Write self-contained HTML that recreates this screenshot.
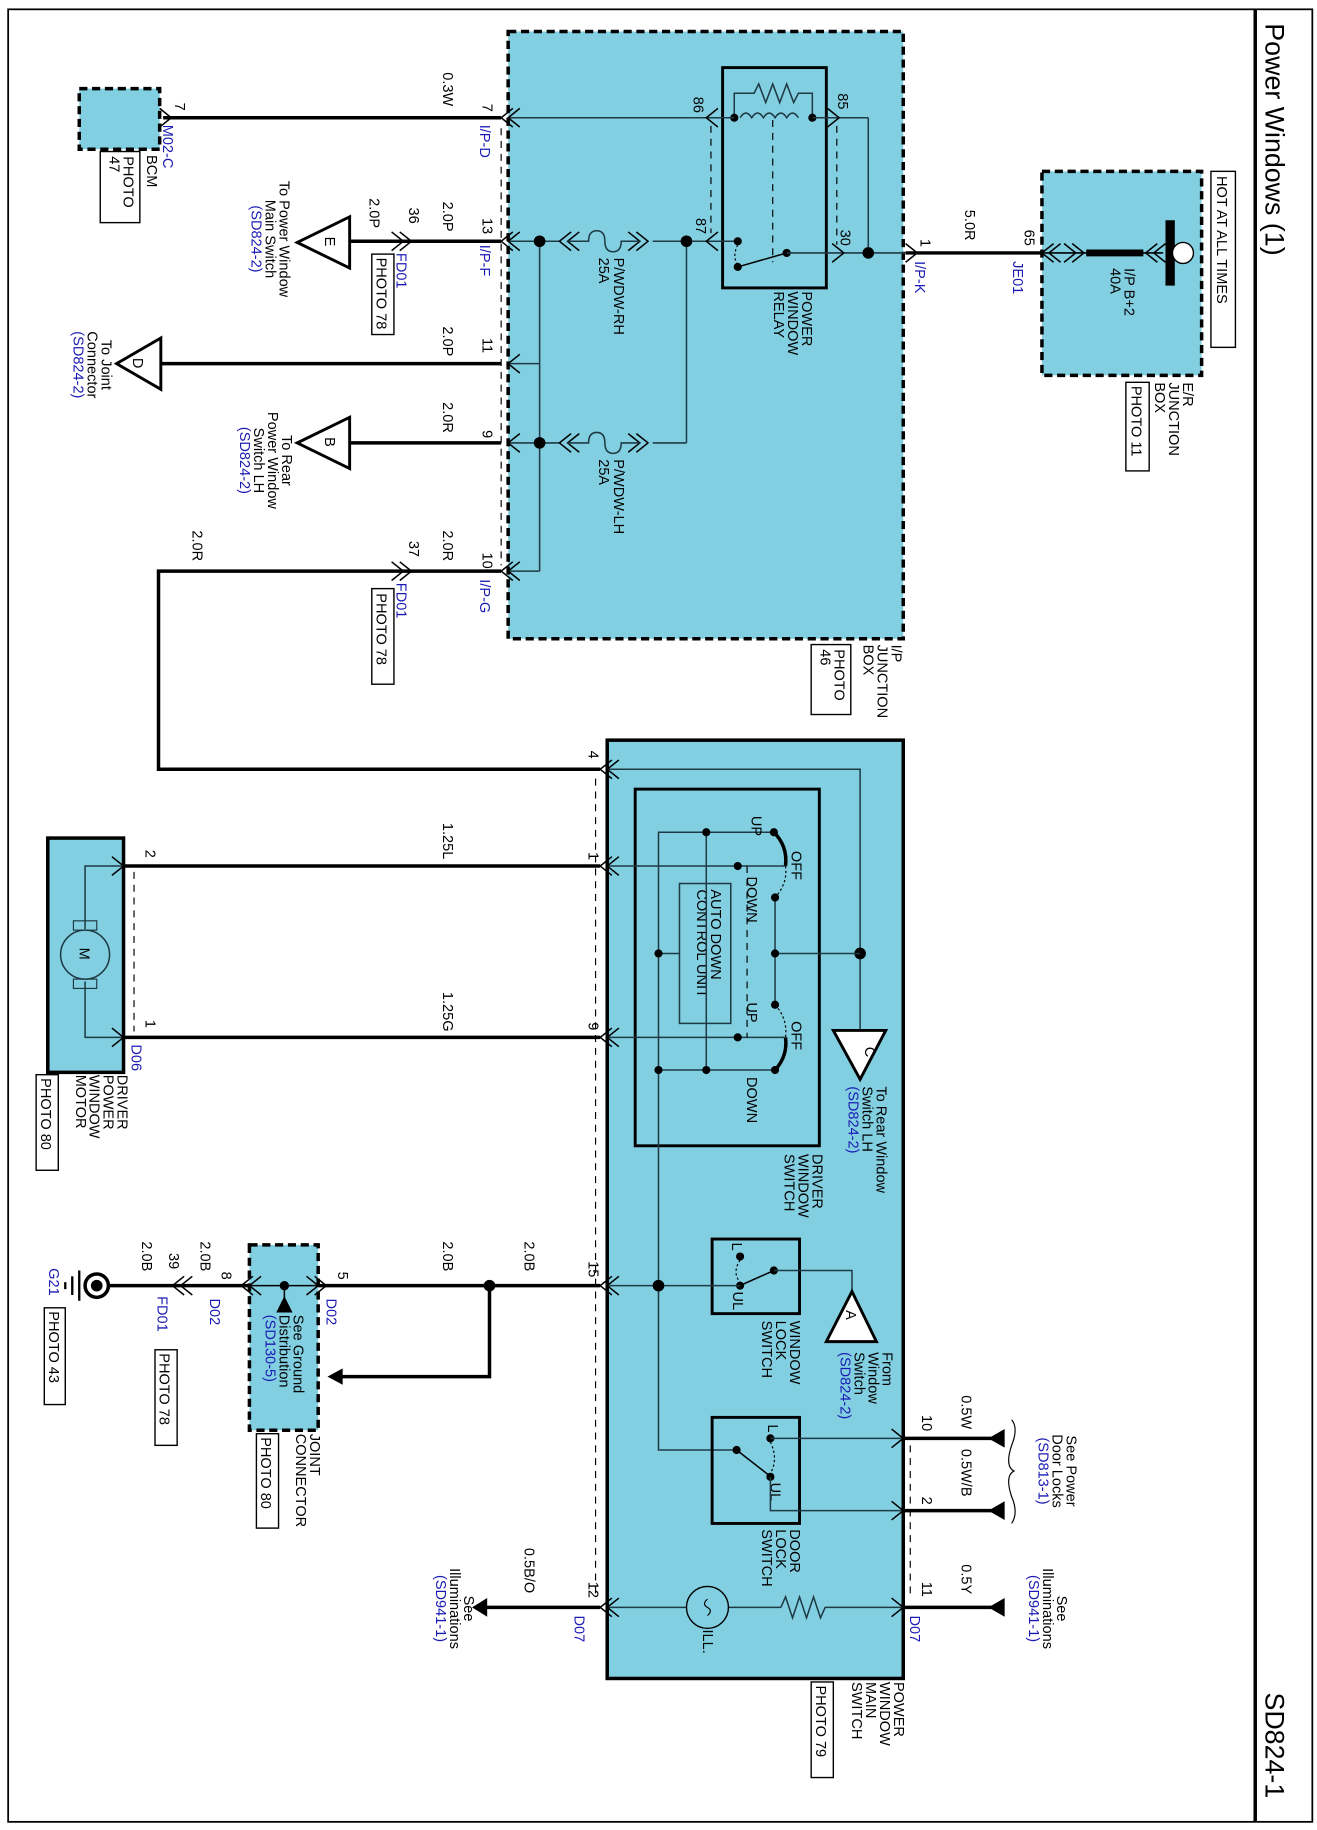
<!DOCTYPE html>
<html><head><meta charset="utf-8"><style>
html,body{margin:0;padding:0;background:#fff;}
svg{display:block;}
text{font-family:"Liberation Sans",sans-serif;font-size:12.5px;fill:#000;}
.b{fill:#1a1ab4;}
.big{font-size:23px;}
.w{stroke:#000;stroke-width:3;fill:none;}
.t{stroke:#1e3a44;stroke-width:1.3;fill:none;}
.k{stroke:#000;stroke-width:1.3;fill:none;}
.d{stroke:#000;stroke-width:1;fill:none;stroke-dasharray:6,5;}
.box{fill:#82cfe2;stroke:#000;stroke-width:3;stroke-dasharray:7,4;}
.sb{fill:#82cfe2;stroke:#000;stroke-width:3;}
.ib{fill:none;stroke:#000;stroke-width:2.5;}
.ph{fill:#fff;stroke:#000;stroke-width:1.2;}
</style></head><body>
<svg width="1317" height="1830" viewBox="0 0 1130 1570" preserveAspectRatio="none" xmlns="http://www.w3.org/2000/svg">
<defs>
<path id="cl" d="M10,-8 L0,0 L10,8" stroke="#000" stroke-width="1.3" fill="none"/>
<path id="cr" d="M-10,-8 L0,0 L-10,8" stroke="#000" stroke-width="1.3" fill="none"/>
</defs>
<!-- frame -->
<rect x="7" y="8" width="1119" height="1555" fill="none" stroke="#000" stroke-width="1.5"/>
<line x1="1077" y1="8" x2="1077" y2="1563" stroke="#000" stroke-width="3"/>
<text class="big" transform="translate(1086,20) rotate(90)">Power Windows (1)</text>
<text class="big" transform="translate(1086,1452) rotate(90)">SD824-1</text>

<!-- E/R junction box -->
<rect class="box" x="894" y="147" width="137" height="175"/>
<rect class="ph" x="1039" y="147" width="21" height="151"/>
<text transform="translate(1044,151) rotate(90)">HOT AT ALL TIMES</text>
<line x1="1004" y1="189" x2="1004" y2="245" stroke="#000" stroke-width="8"/>
<circle cx="1015" cy="217" r="9" fill="#fff" stroke="#000" stroke-width="1.2"/>
<line x1="932" y1="217" x2="981" y2="217" stroke="#000" stroke-width="6"/>
<line x1="894" y1="217" x2="998" y2="217" class="k"/>
<use href="#cl" x="983" y="217"/><use href="#cl" x="990" y="217"/>
<use href="#cr" x="930" y="217"/><use href="#cr" x="923" y="217"/>
<use href="#cl" x="900" y="217"/>
<text transform="translate(965,230) rotate(90)">I/P B+2</text>
<text transform="translate(953,230) rotate(90)">40A</text>
<text transform="translate(1015,328) rotate(90)">E/R</text>
<text transform="translate(1003,328) rotate(90)">JUNCTION</text>
<text transform="translate(991,328) rotate(90)">BOX</text>
<rect class="ph" x="966" y="328" width="20" height="76"/>
<text transform="translate(971,331) rotate(90)">PHOTO 11</text>
<text transform="translate(879,197) rotate(90)">65</text>
<text class="b" transform="translate(869,224) rotate(90)">JE01</text>
<text transform="translate(828,180) rotate(90)">5.0R</text>
<text transform="translate(790,205) rotate(90)">1</text>
<text class="b" transform="translate(785,224) rotate(90)">I/P-K</text>
<line class="w" x1="777" y1="217" x2="894" y2="217"/>
<use href="#cr" x="787" y="217"/><use href="#cl" x="894" y="217"/>

<!-- I/P junction box -->
<rect class="box" x="436" y="27" width="339" height="521"/>
<text transform="translate(765,553) rotate(90)">I/P</text>
<text transform="translate(753,553) rotate(90)">JUNCTION</text>
<text transform="translate(741,553) rotate(90)">BOX</text>
<rect class="ph" x="696" y="553" width="34" height="60"/>
<text transform="translate(716,557) rotate(90)">PHOTO</text>
<text transform="translate(704,557) rotate(90)">46</text>
<!-- relay -->
<rect class="ib" x="620" y="58" width="89" height="189"/>
<path class="t" d="M635,101 Q640,93 645,101 Q650,93 655,101 Q660,93 665,101 Q670,93 675,101 Q680,93 685,101"/>
<path class="t" d="M630,101 V80 H647 L651,72 L657,88 L663,72 L669,88 L675,72 L681,88 L685,80 H697 V101"/>
<circle cx="630" cy="101" r="3.5"/><circle cx="697" cy="101" r="3.5"/>
<line class="t" x1="436" y1="101" x2="630" y2="101"/>
<use href="#cl" x="606" y="101"/><use href="#cl" x="436" y="101"/>
<line class="t" x1="697" y1="101" x2="745" y2="101"/>
<use href="#cr" x="720" y="101"/>
<line class="t" x1="745" y1="101" x2="745" y2="217"/>
<line class="d" x1="610" y1="108" x2="610" y2="200"/>
<line class="d" x1="718" y1="108" x2="718" y2="210"/>
<line class="d" x1="663" y1="103" x2="663" y2="225"/>
<text transform="translate(595,83) rotate(90)">86</text>
<text transform="translate(719,80) rotate(90)">85</text>
<text transform="translate(597,187) rotate(90)">87</text>
<text transform="translate(721,197) rotate(90)">30</text>
<line class="t" x1="589" y1="207" x2="633" y2="207"/><use href="#cl" x="606" y="207"/>
<circle cx="633" cy="207" r="3.5"/>
<circle cx="633" cy="229" r="3.5"/>
<path d="M633,210 Q628,220 633,227" stroke="#000" stroke-width="1" stroke-dasharray="2,2" fill="none"/>
<line class="k" x1="633" y1="229" x2="675" y2="217"/>
<circle cx="675" cy="217" r="3.5"/>
<line class="t" x1="675" y1="217" x2="777" y2="217"/><use href="#cr" x="724" y="217"/>
<circle cx="745" cy="217" r="5"/>
<text transform="translate(688,250) rotate(90)">POWER</text>
<text transform="translate(676,250) rotate(90)">WINDOW</text>
<text transform="translate(664,250) rotate(90)">RELAY</text>
<!-- fuses -->
<line class="t" x1="436" y1="207" x2="589" y2="207"/>
<line class="t" x1="436" y1="380" x2="589" y2="380"/>
<line class="t" x1="589" y1="207" x2="589" y2="380"/>
<line class="t" x1="463" y1="207" x2="463" y2="490"/>
<line class="t" x1="436" y1="312" x2="463" y2="312"/>
<line class="t" x1="436" y1="490" x2="463" y2="490"/>
<circle cx="463" cy="207" r="5"/><circle cx="589" cy="207" r="5"/><circle cx="463" cy="380" r="5"/>
<rect x="480" y="198" width="80" height="18" fill="#82cfe2"/>
<rect x="480" y="371" width="80" height="18" fill="#82cfe2"/>
<g>
<use href="#cl" x="480" y="207"/><use href="#cl" x="487" y="207"/><use href="#cr" x="556" y="207"/><use href="#cr" x="549" y="207"/>
<path class="t" d="M487,207 H505 Q505,198 512,198 Q519,198 519,207 Q519,216 526,216 Q533,216 533,207 H549"/>
<use href="#cl" x="480" y="380"/><use href="#cl" x="487" y="380"/><use href="#cr" x="556" y="380"/><use href="#cr" x="549" y="380"/>
<path class="t" d="M487,380 H505 Q505,371 512,371 Q519,371 519,380 Q519,389 526,389 Q533,389 533,380 H549"/>
</g>
<text transform="translate(527,221) rotate(90)">P/WDW-RH</text>
<text transform="translate(514,221) rotate(90)">25A</text>
<text transform="translate(527,394) rotate(90)">P/WDW-LH</text>
<text transform="translate(514,394) rotate(90)">25A</text>
<use href="#cl" x="436" y="207"/><use href="#cl" x="436" y="312"/><use href="#cl" x="436" y="380"/><use href="#cl" x="436" y="490"/>
<line class="d" x1="430" y1="110" x2="430" y2="485"/>

<!-- left side of I/P -->
<rect class="box" x="68" y="76" width="69" height="52"/>
<line class="w" x1="140" y1="101" x2="430" y2="101"/>
<use href="#cl" x="430" y="101"/><use href="#cr" x="147" y="101"/>
<text transform="translate(150,88) rotate(90)">7</text>
<text class="b" transform="translate(140,107) rotate(90)">M02-C</text>
<text transform="translate(126,133) rotate(90)">BCM</text>
<rect class="ph" x="86" y="130" width="34" height="61"/>
<text transform="translate(106,134) rotate(90)">PHOTO</text>
<text transform="translate(94,134) rotate(90)">47</text>
<text transform="translate(380,62) rotate(90)">0.3W</text>
<text transform="translate(414,89) rotate(90)">7</text>
<text class="b" transform="translate(412,107) rotate(90)">I/P-D</text>

<line class="w" x1="300" y1="207" x2="430" y2="207"/>
<use href="#cl" x="430" y="207"/><use href="#cr" x="353" y="207"/><use href="#cr" x="346" y="207"/>
<polygon points="300,186 300,230 255,208" fill="#fff" stroke="#000" stroke-width="2.5"/>
<text transform="translate(279,203) rotate(90)">E</text>
<text transform="translate(414,187) rotate(90)">13</text>
<text class="b" transform="translate(412,210) rotate(90)">I/P-F</text>
<text transform="translate(380,173) rotate(90)">2.0P</text>
<text transform="translate(351,178) rotate(90)">36</text>
<text class="b" transform="translate(340,217) rotate(90)">FD01</text>
<text transform="translate(317,170) rotate(90)">2.0P</text>
<rect class="ph" x="319" y="218" width="19" height="69"/>
<text transform="translate(323,221) rotate(90)">PHOTO 78</text>
<g text-anchor="middle">
<text transform="translate(240,205) rotate(90)">To Power Window</text>
<text transform="translate(228,205) rotate(90)">Main Switch</text>
<text class="b" transform="translate(216,205) rotate(90)">(SD824-2)</text>
</g>

<line class="w" x1="138" y1="312" x2="430" y2="312"/>
<polygon points="138,290 138,334 100,312" fill="#fff" stroke="#000" stroke-width="2.5"/>
<text transform="translate(114,307) rotate(90)">D</text>
<text transform="translate(414,290) rotate(90)">11</text>
<text transform="translate(380,280) rotate(90)">2.0P</text>
<g text-anchor="middle">
<text transform="translate(87,313) rotate(90)">To Joint</text>
<text transform="translate(75,313) rotate(90)">Connector</text>
<text class="b" transform="translate(63,313) rotate(90)">(SD824-2)</text>
</g>

<line class="w" x1="300" y1="380" x2="430" y2="380"/>
<polygon points="300,358 300,402 255,380" fill="#fff" stroke="#000" stroke-width="2.5"/>
<text transform="translate(279,375) rotate(90)">B</text>
<text transform="translate(414,369) rotate(90)">9</text>
<text transform="translate(380,345) rotate(90)">2.0R</text>
<g text-anchor="middle">
<text transform="translate(242,395) rotate(90)">To Rear</text>
<text transform="translate(230,395) rotate(90)">Power Window</text>
<text transform="translate(218,395) rotate(90)">Switch LH</text>
<text class="b" transform="translate(206,395) rotate(90)">(SD824-2)</text>
</g>

<polyline class="w" points="430,490 136,490 136,660 515,660"/>
<use href="#cl" x="430" y="490"/><use href="#cr" x="353" y="490"/><use href="#cr" x="346" y="490"/>
<text transform="translate(414,474) rotate(90)">10</text>
<text class="b" transform="translate(412,497) rotate(90)">I/P-G</text>
<text transform="translate(380,455) rotate(90)">2.0R</text>
<text transform="translate(351,464) rotate(90)">37</text>
<text class="b" transform="translate(340,500) rotate(90)">FD01</text>
<rect class="ph" x="319" y="505" width="19" height="82"/>
<text transform="translate(323,509) rotate(90)">PHOTO 78</text>
<text transform="translate(165,455) rotate(90)">2.0R</text>

<!-- main switch -->
<rect class="sb" x="521" y="635" width="254" height="805"/>
<text transform="translate(767,1443) rotate(90)">POWER</text>
<text transform="translate(755,1443) rotate(90)">WINDOW</text>
<text transform="translate(743,1443) rotate(90)">MAIN</text>
<text transform="translate(731,1443) rotate(90)">SWITCH</text>
<rect class="ph" x="696" y="1443" width="19" height="82"/>
<text transform="translate(700,1446) rotate(90)">PHOTO 79</text>
<line class="d" x1="511" y1="668" x2="511" y2="1370"/>
<line class="d" x1="781" y1="1240" x2="781" y2="1372"/>
<!-- pin4 -->
<polyline class="t" points="521,660 738,660 738,884"/>
<use href="#cl" x="515" y="660"/><use href="#cl" x="521" y="660"/>
<text transform="translate(505,644) rotate(90)">4</text>
<circle cx="738" cy="818" r="5"/>
<polygon points="715,884 760,884 738,926" fill="#fff" stroke="#000" stroke-width="2.5"/>
<text transform="translate(742,898) rotate(90)">C</text>
<text transform="translate(752,932) rotate(90)">To Rear Window</text>
<text transform="translate(740,932) rotate(90)">Switch LH</text>
<text class="b" transform="translate(728,932) rotate(90)">(SD824-2)</text>
<!-- inner driver switch -->
<rect class="ib" x="545" y="677" width="158" height="306"/>
<text transform="translate(697,990) rotate(90)">DRIVER</text>
<text transform="translate(685,990) rotate(90)">WINDOW</text>
<text transform="translate(673,990) rotate(90)">SWITCH</text>
<rect x="583" y="758" width="44" height="120" fill="none" stroke="#1e3a44" stroke-width="1.3"/>
<text transform="translate(610,763) rotate(90)">AUTO DOWN</text>
<text transform="translate(598,763) rotate(90)">CONTROL UNIT</text>
<polyline class="t" points="664,714 565,714 565,1244 632,1244"/>
<line class="t" x1="606" y1="714" x2="606" y2="918"/>
<line class="t" x1="565" y1="918" x2="665" y2="918"/>
<line class="t" x1="565" y1="818" x2="583" y2="818"/>
<line class="t" x1="665" y1="770" x2="665" y2="862"/>
<line class="t" x1="665" y1="818" x2="738" y2="818"/>
<circle cx="606" cy="714" r="3.5"/><circle cx="664" cy="714" r="3.5"/><circle cx="565" cy="818" r="3.5"/><circle cx="665" cy="818" r="3.5"/>
<circle cx="665" cy="770" r="3.5"/><circle cx="665" cy="862" r="3.5"/><circle cx="565" cy="918" r="3.5"/><circle cx="606" cy="918" r="3.5"/><circle cx="665" cy="918" r="3.5"/>
<path d="M664,714 Q676,726 674,743" stroke="#000" stroke-width="3" fill="none"/>
<path d="M674,890 Q676,906 665,918" stroke="#000" stroke-width="3" fill="none"/>
<path d="M674,743 Q676,758 665,770 M665,862 Q676,874 674,890" stroke="#000" stroke-width="1" stroke-dasharray="2,2" fill="none"/>
<line class="t" x1="521" y1="743" x2="674" y2="743"/>
<line class="t" x1="521" y1="890" x2="674" y2="890"/>
<circle cx="633" cy="743" r="3.5"/><circle cx="633" cy="890" r="3.5"/>
<line class="d" x1="641" y1="743" x2="641" y2="890"/>
<text transform="translate(645,700) rotate(90)">UP</text>
<text transform="translate(679,730) rotate(90)">OFF</text>
<text transform="translate(641,752) rotate(90)">DOWN</text>
<text transform="translate(641,860) rotate(90)">UP</text>
<text transform="translate(679,876) rotate(90)">OFF</text>
<text transform="translate(641,924) rotate(90)">DOWN</text>
<!-- motor -->
<line class="w" x1="106" y1="743" x2="515" y2="743"/>
<line class="w" x1="106" y1="890" x2="515" y2="890"/>
<use href="#cl" x="515" y="743"/><use href="#cl" x="521" y="743"/>
<use href="#cl" x="515" y="890"/><use href="#cl" x="521" y="890"/>
<text transform="translate(505,731) rotate(90)">1</text>
<text transform="translate(505,877) rotate(90)">9</text>
<text transform="translate(380,706) rotate(90)">1.25L</text>
<text transform="translate(380,851) rotate(90)">1.25G</text>
<rect class="sb" x="41" y="719" width="65" height="201"/>
<polyline class="t" points="106,743 73,743 73,797"/>
<polyline class="t" points="73,842 73,890 106,890"/>
<rect x="63" y="790" width="20" height="8" fill="none" stroke="#1e3a44"/>
<rect x="63" y="840" width="20" height="8" fill="none" stroke="#1e3a44"/>
<circle cx="73" cy="819" r="21" fill="#82cfe2" stroke="#1e3a44" stroke-width="1.3"/>
<text transform="translate(68,813) rotate(90)">M</text>
<use href="#cr" x="106" y="743"/><use href="#cr" x="106" y="890"/>
<line class="d" x1="115" y1="748" x2="115" y2="885"/>
<text transform="translate(125,729) rotate(90)">2</text>
<text transform="translate(125,875) rotate(90)">1</text>
<text class="b" transform="translate(113,896) rotate(90)">D06</text>
<text transform="translate(101,922) rotate(90)">DRIVER</text>
<text transform="translate(89,922) rotate(90)">POWER</text>
<text transform="translate(77,922) rotate(90)">WINDOW</text>
<text transform="translate(65,922) rotate(90)">MOTOR</text>
<rect class="ph" x="31" y="922" width="19" height="82"/>
<text transform="translate(35,925) rotate(90)">PHOTO 80</text>
<!-- window lock switch -->
<rect class="ib" x="611" y="1063" width="75" height="64"/>
<circle cx="635" cy="1078" r="3.5"/><circle cx="635" cy="1103" r="3.5"/><circle cx="664" cy="1090" r="3.5"/>
<line class="k" x1="664" y1="1090" x2="637" y2="1102"/>
<path d="M635,1081 Q628,1092 635,1100" stroke="#000" stroke-width="1" stroke-dasharray="2,2" fill="none"/>
<polyline class="t" points="664,1090 731,1090 731,1108"/>
<text transform="translate(628,1066) rotate(90)">L</text>
<text transform="translate(629,1108) rotate(90)">UL</text>
<polygon points="731,1108 752,1151 709,1151" fill="#fff" stroke="#000" stroke-width="2.5"/>
<text transform="translate(726,1124) rotate(90)">A</text>
<text transform="translate(757,1160) rotate(90)">From</text>
<text transform="translate(745,1160) rotate(90)">Window</text>
<text transform="translate(733,1160) rotate(90)">Switch</text>
<text class="b" transform="translate(721,1160) rotate(90)">(SD824-2)</text>
<text transform="translate(678,1133) rotate(90)">WINDOW</text>
<text transform="translate(666,1133) rotate(90)">LOCK</text>
<text transform="translate(654,1133) rotate(90)">SWITCH</text>
<!-- ground wire -->
<line class="t" x1="521" y1="1103" x2="635" y2="1103"/>
<circle cx="565" cy="1103" r="5"/>
<use href="#cl" x="515" y="1103"/><use href="#cl" x="521" y="1103"/>
<line class="w" x1="93" y1="1103" x2="515" y2="1103"/>
<circle cx="420" cy="1103" r="5"/>
<polyline class="w" points="420,1103 420,1181 290,1181"/>
<polygon points="281,1181 294,1174 294,1188"/>
<text transform="translate(505,1082) rotate(90)">15</text>
<text transform="translate(450,1065) rotate(90)">2.0B</text>
<text transform="translate(380,1065) rotate(90)">2.0B</text>
<rect class="box" x="214" y="1068" width="59" height="159"/>
<line class="k" x1="214" y1="1103" x2="273" y2="1103"/>
<circle cx="244" cy="1103" r="4"/>
<line class="k" x1="244" y1="1103" x2="244" y2="1115"/>
<polygon points="244,1112 237,1126 251,1126"/>
<use href="#cr" x="280" y="1103"/><use href="#cr" x="273" y="1103"/><use href="#cl" x="214" y="1103"/><use href="#cl" x="207" y="1103"/>
<text transform="translate(290,1091) rotate(90)">5</text>
<text class="b" transform="translate(280,1114) rotate(90)">D02</text>
<text transform="translate(252,1128) rotate(90)">See Ground</text>
<text transform="translate(240,1128) rotate(90)">Distribution</text>
<text class="b" transform="translate(228,1128) rotate(90)">(SD130-5)</text>
<text transform="translate(266,1230) rotate(90)">JOINT</text>
<text transform="translate(254,1230) rotate(90)">CONNECTOR</text>
<rect class="ph" x="220" y="1230" width="19" height="81"/>
<text transform="translate(224,1233) rotate(90)">PHOTO 80</text>
<text transform="translate(190,1091) rotate(90)">8</text>
<text class="b" transform="translate(180,1114) rotate(90)">D02</text>
<text transform="translate(172,1065) rotate(90)">2.0B</text>
<use href="#cl" x="155" y="1103"/><use href="#cl" x="148" y="1103"/>
<text transform="translate(145,1075) rotate(90)">39</text>
<text class="b" transform="translate(135,1112) rotate(90)">FD01</text>
<rect class="ph" x="133" y="1158" width="19" height="82"/>
<text transform="translate(137,1161) rotate(90)">PHOTO 78</text>
<text transform="translate(122,1065) rotate(90)">2.0B</text>
<circle cx="83" cy="1103" r="10" fill="#fff" stroke="#000" stroke-width="3"/>
<circle cx="83" cy="1103" r="5"/>
<line x1="68" y1="1090" x2="68" y2="1116" stroke="#000" stroke-width="2"/>
<line x1="62" y1="1095" x2="62" y2="1111" stroke="#000" stroke-width="2"/>
<line x1="56" y1="1100" x2="56" y2="1106" stroke="#000" stroke-width="2"/>
<text class="b" transform="translate(42,1088) rotate(90)">G21</text>
<rect class="ph" x="38" y="1122" width="18" height="83"/>
<text transform="translate(42,1125) rotate(90)">PHOTO 43</text>
<!-- door lock switch -->
<rect class="ib" x="611" y="1216" width="75" height="91"/>
<circle cx="661" cy="1234" r="3.5"/><circle cx="661" cy="1267" r="3.5"/><circle cx="632" cy="1244" r="3.5"/>
<line class="k" x1="632" y1="1244" x2="659" y2="1265"/>
<path d="M661,1237 Q668,1252 661,1264" stroke="#000" stroke-width="1" stroke-dasharray="2,2" fill="none"/>
<text transform="translate(659,1222) rotate(90)">L</text>
<text transform="translate(661,1272) rotate(90)">UL</text>
<line class="t" x1="661" y1="1234" x2="775" y2="1234"/>
<polyline class="t" points="661,1267 661,1296 775,1296"/>
<use href="#cr" x="775" y="1234"/><use href="#cr" x="775" y="1296"/>
<text transform="translate(678,1312) rotate(90)">DOOR</text>
<text transform="translate(666,1312) rotate(90)">LOCK</text>
<text transform="translate(654,1312) rotate(90)">SWITCH</text>
<line class="w" x1="775" y1="1234" x2="852" y2="1234"/>
<line class="w" x1="775" y1="1296" x2="852" y2="1296"/>
<line class="w" x1="775" y1="1379" x2="852" y2="1379"/>
<polygon points="848,1234 862,1226 862,1242"/>
<polygon points="848,1296 862,1288 862,1304"/>
<polygon points="848,1379 862,1371 862,1387"/>
<path d="M868,1218 Q874,1225 868,1240 Q862,1258 870,1262 Q862,1266 868,1284 Q874,1298 868,1307" stroke="#000" stroke-width="1" fill="none"/>
<text transform="translate(791,1214) rotate(90)">10</text>
<text transform="translate(791,1284) rotate(90)">2</text>
<text transform="translate(791,1357) rotate(90)">11</text>
<text class="b" transform="translate(781,1386) rotate(90)">D07</text>
<text transform="translate(825,1197) rotate(90)">0.5W</text>
<text transform="translate(825,1243) rotate(90)">0.5W/B</text>
<text transform="translate(825,1342) rotate(90)">0.5Y</text>
<g text-anchor="middle">
<text transform="translate(915,1262) rotate(90)">See Power</text>
<text transform="translate(903,1262) rotate(90)">Door Locks</text>
<text class="b" transform="translate(891,1262) rotate(90)">(SD813-1)</text>
<text transform="translate(907,1380) rotate(90)">See</text>
<text transform="translate(895,1380) rotate(90)">Illuminations</text>
<text class="b" transform="translate(883,1380) rotate(90)">(SD941-1)</text>
<text transform="translate(398,1380) rotate(90)">See</text>
<text transform="translate(386,1380) rotate(90)">Illuminations</text>
<text class="b" transform="translate(374,1380) rotate(90)">(SD941-1)</text>
</g>
<!-- illumination -->
<line class="t" x1="521" y1="1379" x2="670" y2="1379"/>
<path class="t" d="M670,1379 L674,1370 L680,1388 L686,1370 L692,1388 L698,1370 L704,1388 L708,1379 H775"/>
<circle cx="607" cy="1379" r="18" fill="#82cfe2" stroke="#000" stroke-width="1.2"/>
<path d="M607,1372 Q602,1376 607,1379 Q612,1382 607,1386" stroke="#000" fill="none"/>
<use href="#cl" x="515" y="1379"/><use href="#cl" x="521" y="1379"/><use href="#cr" x="775" y="1379"/>
<text transform="translate(603,1398) rotate(90)">ILL.</text>
<line class="w" x1="412" y1="1379" x2="515" y2="1379"/>
<polygon points="405,1379 418,1371 418,1387"/>
<text transform="translate(505,1357) rotate(90)">12</text>
<text class="b" transform="translate(493,1386) rotate(90)">D07</text>
<text transform="translate(450,1328) rotate(90)">0.5B/O</text>
</svg>
</body></html>
